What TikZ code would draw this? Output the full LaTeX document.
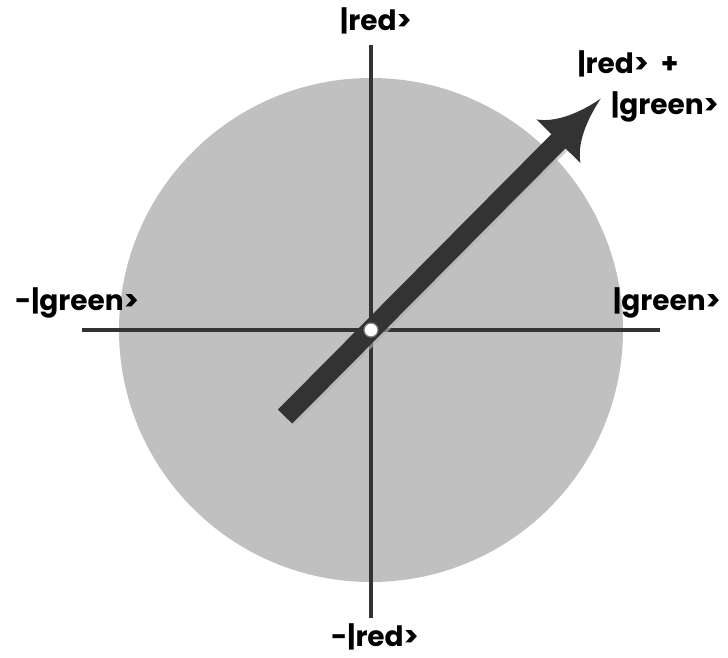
\documentclass[tikz,border=0pt]{standalone}
\usepackage{fontspec}
\setmainfont{Poppins}
\usepackage{tikz}
\usetikzlibrary{calc}

\definecolor{discgray}{HTML}{C0C0C0}
\definecolor{axisgray}{HTML}{333333}

\begin{document}
\begin{tikzpicture}[
    x=1pt, y=-1pt,
    axis/.style={draw=axisgray, line width=3.4pt},
    ket/.style={font=\fontsize{28}{30}\selectfont\bfseries, inner sep=0pt, anchor=center},
    vector/.style={fill=axisgray, draw=none}
]
\useasboundingbox (0,0) rectangle (728,658);

% Disc
\fill[discgray] (371,330) circle (252);

% Axis ends
\coordinate (origin) at (371,330);
\coordinate (west) at (82,330);
\coordinate (east) at (660,330);
\coordinate (north) at (371,45);
\coordinate (south) at (371,618);

% Axes
\draw[axis] (west) -- (east);
\draw[axis] (north) -- (south);

% State vector
\begin{scope}[shift={(origin)}, rotate=45.2]
  \coordinate (tail) at (-122,0);
  \coordinate (back) at (266,0);
  \coordinate (tip) at (326,0);
  \fill[gray!60, opacity=0.6] ($(tail)+(1.5,-7)$) rectangle ($(back)+(1.5,13)$);
  \fill[vector] (tail) ++(0,-10) rectangle ($(back)+(1,10)$);
  \fill[vector] (tip) .. controls (296,-6) and (276,-17) .. (266,-31)
     -- (266,31) .. controls (276,17) and (296,6) .. (tip) -- cycle;
\end{scope}

% Pivot
\node[circle, fill=white, draw=gray, line width=1.2pt, minimum size=14pt, inner sep=0pt] (pivot) at (origin) {};

% Labels
\node[ket] (up) at (376,21) {|red>};
\node[ket] (down) at (375,637) {-|red>};
\node[ket] (left) at (77,303) {-|green>};
\node[ket] (right) at (667,303) {|green>};
\node[ket] (sum1) at (628,64) {|red>\ \ +};
\node[ket] (sum2) at (665,107) {|green>};

\end{tikzpicture}
\end{document}
